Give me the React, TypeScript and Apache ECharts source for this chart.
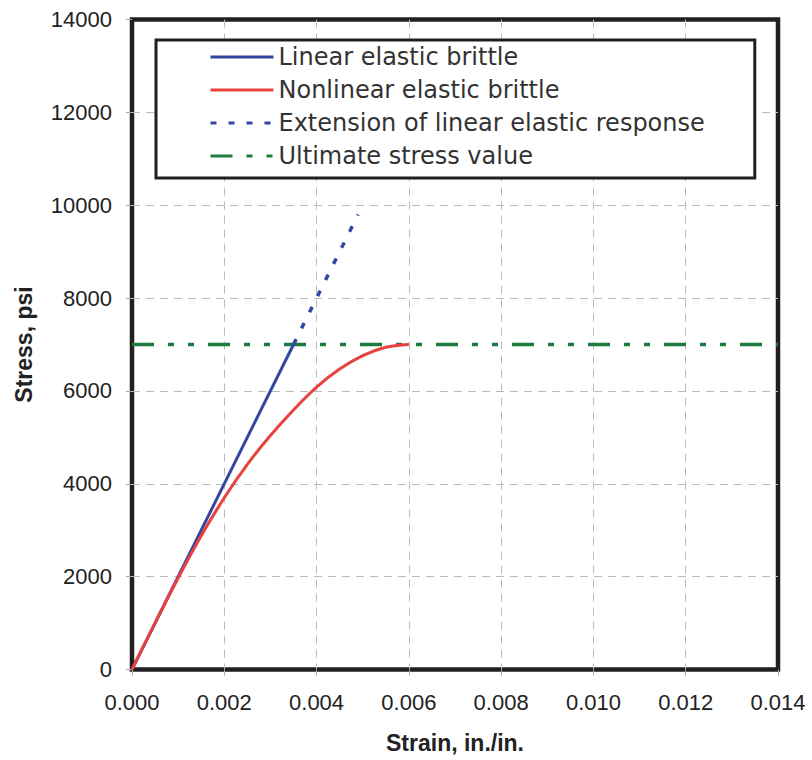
import React, { useEffect, useRef } from "react";
import * as echarts from "echarts";

// Strain (in./in.) and stress (psi)
const linearStrain = [0, 0.0035];
const linearStress = [0, 7000];

const nonlinearStrain = [0, 0.0005, 0.001, 0.0015, 0.002, 0.0025, 0.003, 0.0035, 0.004, 0.0045, 0.005, 0.0055, 0.006];
const nonlinearStress = [0, 1000, 1970, 2880, 3700, 4420, 5040, 5590, 6080, 6470, 6760, 6940, 7000];

const extensionStrain = [0.0035, 0.0049];
const extensionStress = [7000, 9800];

const ultimateStrain = [0, 0.014];
const ultimateStress = [7000, 7000];

const seriesNames = [
  "Linear elastic brittle",
  "Nonlinear elastic brittle",
  "Extension of linear elastic response",
  "Ultimate stress value",
];

const xTicks = { min: 0, max: 0.014, interval: 0.002 };
const yTicks = { min: 0, max: 14000, interval: 2000 };

const zip = (xs: number[], ys: number[]) => xs.map((x, i) => [x, ys[i]]);

export default function App() {
  const ref = useRef<HTMLDivElement>(null);

  useEffect(() => {
    if (!ref.current) return;
    const chart = echarts.init(ref.current, undefined, { renderer: "svg" });
    const axisFont = { fontFamily: "Liberation Sans", fontSize: 22, color: "#222" };
    const split = {
      show: true,
      showMinLine: false,
      showMaxLine: false,
      lineStyle: { color: "#bbb", type: [8, 6], width: 1 },
    };
    chart.setOption({
      animation: false,
      backgroundColor: "#fff",
      grid: {
        left: 132,
        right: 34,
        top: 19.5,
        bottom: 90.5,
        show: true,
        borderColor: "#231f20",
        borderWidth: 4.5,
        backgroundColor: "transparent",
      },
      legend: {
        data: seriesNames,
        orient: "vertical",
        left: 156,
        top: 40,
        padding: [5, 50, 10, 53],
        itemWidth: 63,
        itemHeight: 1,
        itemGap: 9,
        backgroundColor: "#fff",
        borderColor: "#231f20",
        borderWidth: 3,
        borderRadius: 0,
        lineStyle: { width: 3 },
        textStyle: { fontFamily: "DejaVu Sans", fontSize: 24, color: "#333" },
      },
      xAxis: {
        type: "value",
        ...xTicks,
        name: "Strain, in./in.",
        nameLocation: "middle",
        nameGap: 62,
        nameTextStyle: { fontFamily: "Liberation Sans", fontSize: 23, fontWeight: "bold", color: "#222" },
        axisLine: { show: false },
        axisTick: { show: true, length: 6, lineStyle: { color: "#aaa", width: 1 } },
        axisLabel: { ...axisFont, margin: 22, formatter: (v: number) => v.toFixed(3) },
        splitLine: split,
      },
      yAxis: {
        type: "value",
        ...yTicks,
        name: "Stress, psi",
        nameLocation: "middle",
        nameRotate: 90,
        nameGap: 97,
        nameTextStyle: { fontFamily: "Liberation Sans", fontSize: 23, fontWeight: "bold", color: "#222" },
        axisLine: { show: false },
        axisTick: { show: true, length: 6, lineStyle: { color: "#aaa", width: 1 } },
        axisLabel: { ...axisFont, margin: 20, formatter: (v: number) => String(v) },
        splitLine: split,
      },
      series: [
        {
          name: seriesNames[3],
          type: "line",
          data: zip(ultimateStrain, ultimateStress),
          showSymbol: false,
          symbol: "none",
          lineStyle: { color: "#1d7b3f", width: 3.5, type: [22, 14, 6, 14, 6, 14] },
          itemStyle: { color: "#1d7b3f" },
          z: 2,
        },
        {
          name: seriesNames[0],
          type: "line",
          data: zip(linearStrain, linearStress),
          showSymbol: false,
          symbol: "none",
          lineStyle: { color: "#3447a0", width: 3 },
          itemStyle: { color: "#3447a0" },
          z: 3,
        },
        {
          name: seriesNames[2],
          type: "line",
          data: zip(extensionStrain, extensionStress),
          showSymbol: false,
          symbol: "none",
          lineStyle: { color: "#3447a0", width: 3.5, type: [6, 12] },
          itemStyle: { color: "#3447a0" },
          z: 3,
        },
        {
          name: seriesNames[1],
          type: "line",
          data: zip(nonlinearStrain, nonlinearStress),
          showSymbol: false,
          symbol: "none",
          smooth: 0.3,
          lineStyle: { color: "#e8413f", width: 3 },
          itemStyle: { color: "#e8413f" },
          z: 4,
        },
      ],
    });
    return () => chart.dispose();
  }, []);

  return (
    <div
      ref={ref}
      style={{ position: "fixed", left: 0, top: 0, width: 812, height: 760, background: "#fff" }}
    />
  );
}
